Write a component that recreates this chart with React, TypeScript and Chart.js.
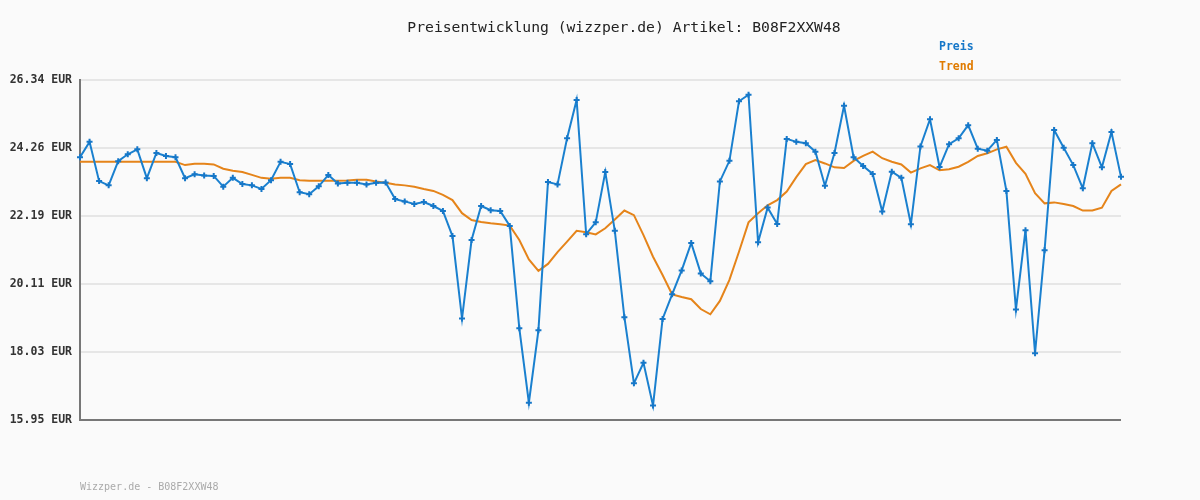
import React, { useEffect, useRef } from "react";
import { Chart, registerables } from "chart.js";

Chart.register(...registerables);

const titleText = "Preisentwicklung (wizzper.de) Artikel: B08F2XXW48";
const footerText = "Wizzper.de - B08F2XXW48";
const seriesNames = ["Preis", "Trend"];
const seriesColors = ["#1a80cf", "#e5841a"];
const legendColors = ["#1677c8", "#e07b00"];
const yTickValues = [15.95, 18.03, 20.11, 22.19, 24.26, 26.34];
const yTickLabels = ["15.95 EUR", "18.03 EUR", "20.11 EUR", "22.19 EUR", "24.26 EUR", "26.34 EUR"];
const yMin = 15.95;
const yMax = 26.34;

const preis = [
  23.98, 24.45, 23.25, 23.12, 23.86, 24.07, 24.22, 23.34, 24.11, 24.02,
  23.98, 23.34, 23.46, 23.42, 23.41, 23.08, 23.35, 23.16, 23.12, 23.01,
  23.28, 23.84, 23.77, 22.91, 22.85, 23.09, 23.44, 23.18, 23.2, 23.2,
  23.15, 23.2, 23.21, 22.7, 22.63, 22.55, 22.61, 22.49, 22.34, 21.57,
  19.05, 21.45, 22.49, 22.36, 22.34, 21.88, 18.75, 16.48, 18.69, 23.22,
  23.15, 24.56, 25.73, 21.63, 21.99, 23.53, 21.73, 19.09, 17.07, 17.7,
  16.39, 19.04, 19.79, 20.52, 21.36, 20.43, 20.19, 23.24, 23.87, 25.69,
  25.89, 21.38, 22.44, 21.94, 24.54, 24.45, 24.41, 24.15, 23.11, 24.11,
  25.55, 23.98, 23.71, 23.47, 22.32, 23.54, 23.35, 21.93, 24.31, 25.14,
  23.68, 24.38, 24.56, 24.96, 24.24, 24.18, 24.51, 22.95, 19.33, 21.75,
  17.99, 21.14, 24.81, 24.27, 23.74, 23.03, 24.41, 23.67, 24.75, 23.38,
];

const trend = [
  23.84, 23.84, 23.84, 23.84, 23.84, 23.84, 23.84, 23.84, 23.84, 23.84,
  23.84, 23.74, 23.78, 23.78, 23.76, 23.63, 23.57, 23.53, 23.44, 23.35,
  23.32, 23.35, 23.35, 23.28, 23.26, 23.26, 23.26, 23.26, 23.27, 23.29,
  23.29, 23.24, 23.2, 23.15, 23.12, 23.08, 23.01, 22.95, 22.83, 22.67,
  22.27, 22.06, 22.0, 21.96, 21.93, 21.89, 21.45, 20.86, 20.51, 20.72,
  21.08, 21.4, 21.73, 21.69, 21.62, 21.81, 22.08, 22.35, 22.21, 21.6,
  20.94, 20.38, 19.79, 19.71, 19.64, 19.34, 19.18, 19.59, 20.23, 21.09,
  21.99, 22.27, 22.51, 22.67, 22.93, 23.37, 23.77, 23.89, 23.79, 23.67,
  23.65, 23.87, 24.02, 24.15, 23.95, 23.84, 23.76, 23.51, 23.64, 23.74,
  23.58, 23.61, 23.69, 23.84, 24.02, 24.1, 24.22, 24.3, 23.81, 23.47,
  22.88, 22.57, 22.6, 22.55, 22.49, 22.35, 22.35, 22.44, 22.95, 23.15,
];

const labels = preis.map((_, i) => String(i + 1));

const MONO = "'DejaVu Sans Mono', 'Liberation Mono', monospace";

const decorPlugin = {
  id: "decor",
  beforeDraw(chart: any) {
    const ctx = chart.ctx;
    ctx.save();
    ctx.fillStyle = "#fafafa";
    ctx.fillRect(0, 0, chart.width, chart.height);
    ctx.restore();
  },
  afterDraw(chart: any) {
    const ctx = chart.ctx;
    ctx.save();
    ctx.textBaseline = "middle";
    ctx.fillStyle = "#222222";
    ctx.font = `14.7px ${MONO}`;
    ctx.textAlign = "center";
    ctx.fillText(titleText, 624, 28);

    ctx.textAlign = "left";
    ctx.font = `bold 11.5px ${MONO}`;
    ctx.fillStyle = legendColors[0];
    ctx.fillText(seriesNames[0], 939, 47);
    ctx.fillStyle = legendColors[1];
    ctx.fillText(seriesNames[1], 939, 67);

    ctx.font = `10px ${MONO}`;
    ctx.fillStyle = "#aaaaaa";
    ctx.fillText(footerText, 80, 487);
    ctx.restore();
  },
};

export default function App() {
  const canvasRef = useRef<HTMLCanvasElement | null>(null);

  useEffect(() => {
    const canvas = canvasRef.current;
    if (!canvas) return;
    const chart = new Chart(canvas, {
      type: "line",
      data: {
        labels,
        datasets: [
          {
            label: seriesNames[0],
            data: preis,
            borderColor: seriesColors[0],
            backgroundColor: legendColors[0],
            borderWidth: 2,
            pointStyle: "cross",
            pointRadius: 3,
            pointBorderWidth: 2,
            pointBorderColor: legendColors[0],
            pointBackgroundColor: legendColors[0],
            tension: 0,
            clip: 6,
          },
          {
            label: seriesNames[1],
            data: trend,
            borderColor: seriesColors[1],
            borderWidth: 2,
            pointRadius: 0,
            tension: 0,
            clip: 6,
          },
        ],
      },
      options: {
        animation: false,
        responsive: false,
        maintainAspectRatio: false,
        layout: { padding: { top: 80, bottom: 80, left: 0, right: 79 } },
        plugins: {
          legend: { display: false },
          title: { display: false },
          tooltip: { enabled: false },
        },
        scales: {
          x: {
            type: "category",
            display: false,
            offset: false,
          },
          y: {
            min: yMin,
            max: yMax,
            afterBuildTicks(scale: any) {
              scale.ticks = yTickValues.map((v) => ({ value: v }));
            },
            afterFit(scale: any) {
              scale.width = 80;
            },
            ticks: {
              padding: 8,
              color: "#333333",
              font: { family: MONO, size: 11.5, weight: "bold" },
              callback: (_v: any, i: number) => yTickLabels[i],
            },
            grid: {
              drawTicks: false,
              lineWidth: 2,
              color: (c: any) => (c.index === 0 ? "#777777" : "#e6e6e6"),
            },
            border: { display: true, color: "#777777", width: 2 },
          },
        },
      },
      plugins: [decorPlugin],
    });
    return () => chart.destroy();
  }, []);

  return (
    <div style={{ position: "absolute", left: 0, top: 0, width: 1200, height: 500, background: "#fafafa" }}>
      <canvas ref={canvasRef} width={1200} height={500} style={{ width: 1200, height: 500, display: "block" }} />
    </div>
  );
}
